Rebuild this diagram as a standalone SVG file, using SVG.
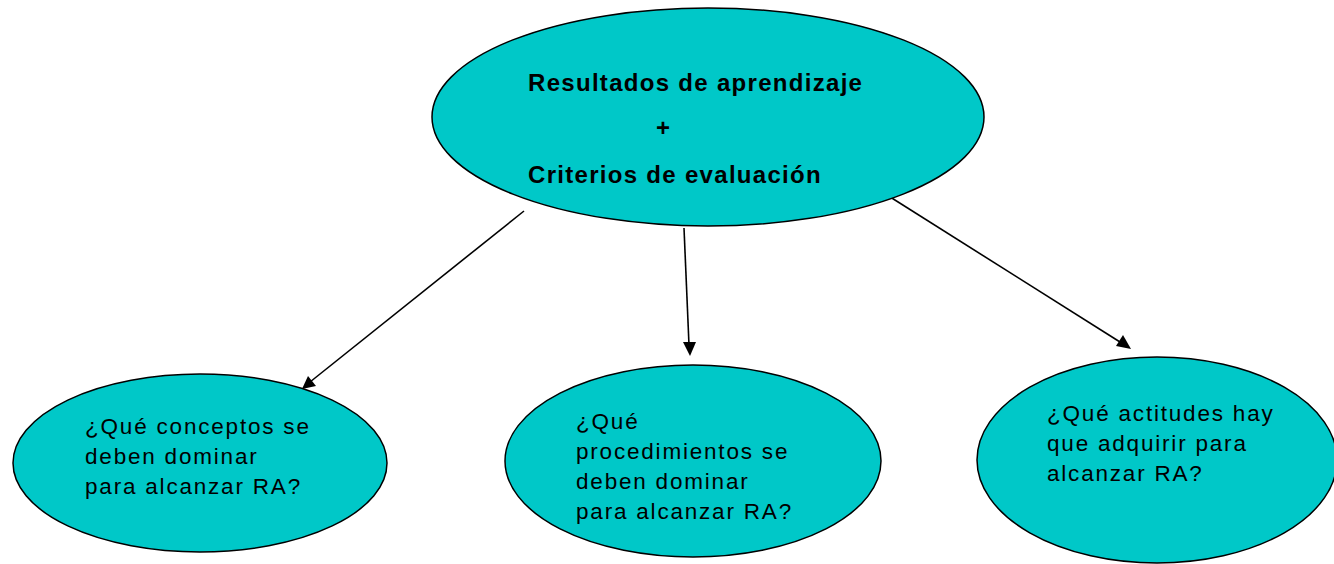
<svg xmlns="http://www.w3.org/2000/svg" width="1334" height="564" viewBox="0 0 1334 564">
<style>
.node{fill:#00C8C8;stroke:#000;stroke-width:1.5}
.t{font-family:"Liberation Sans",Arial,sans-serif;font-size:22.5px;letter-spacing:1.8px;fill:#000}
.b{font-family:"Liberation Sans",Arial,sans-serif;font-size:24px;font-weight:bold;letter-spacing:1.3px;fill:#000}
.edge{stroke:#000;stroke-width:1.6;fill:none}
.head{fill:#000}
</style>
<rect width="1334" height="564" fill="#fff"/>
<g id="connectors">
<line class="edge" x1="524" y1="211" x2="310" y2="382"/>
<path class="head" d="M302,389 L308,376 L316,386 Z"/>
<line class="edge" x1="684" y1="228" x2="689" y2="345"/>
<path class="head" d="M683,342 L696,342 L690,356 Z"/>
<line class="edge" x1="887" y1="195" x2="1120" y2="342"/>
<path class="head" d="M1131,349 L1116,346 L1123,335 Z"/>
</g>
<g id="top">
<ellipse class="node" cx="708" cy="117" rx="276" ry="109"/>
<text class="b" x="528" y="91">Resultados de aprendizaje</text>
<text class="b" x="656" y="136">+</text>
<text class="b" x="528" y="183">Criterios de evaluación</text>
</g>
<g id="conceptos">
<ellipse class="node" cx="200" cy="463" rx="187" ry="89"/>
<text class="t" x="85" y="434">¿Qué conceptos se</text>
<text class="t" x="85" y="464">deben dominar</text>
<text class="t" x="85" y="494">para alcanzar RA?</text>
</g>
<g id="procedimientos">
<ellipse class="node" cx="693" cy="461" rx="188" ry="96"/>
<text class="t" x="576" y="429">¿Qué</text>
<text class="t" x="576" y="459">procedimientos se</text>
<text class="t" x="576" y="489">deben dominar</text>
<text class="t" x="576" y="519">para alcanzar RA?</text>
</g>
<g id="actitudes">
<ellipse class="node" cx="1157" cy="460" rx="180" ry="103"/>
<text class="t" x="1047" y="421">¿Qué actitudes hay</text>
<text class="t" x="1047" y="451">que adquirir para</text>
<text class="t" x="1047" y="481">alcanzar RA?</text>
</g>
</svg>
